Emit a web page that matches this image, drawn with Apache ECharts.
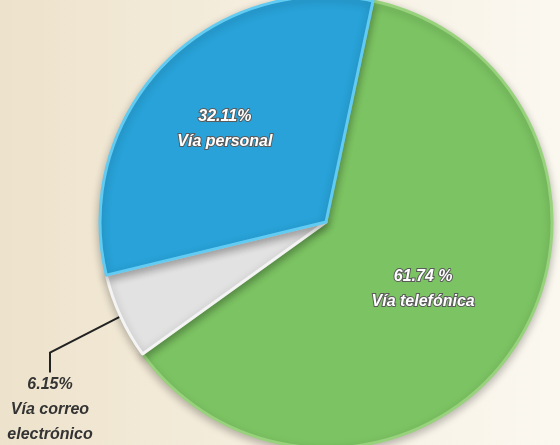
<!DOCTYPE html>
<html>
<head>
<meta charset="utf-8">
<script src="https://cdn.jsdelivr.net/npm/echarts@6/dist/echarts.min.js"></script>
<style>
  html, body { margin: 0; padding: 0; }
  #chart { width: 560px; height: 445px; }
</style>
</head>
<body>
<div id="chart"></div>
<script>
// datos del gráfico
var categorias = ['Vía telefónica', 'Vía correo\nelectrónico', 'Vía personal'];
var valores = [61.74, 6.15, 32.11];
var etiquetas = ['61.74 %', '6.15%', '32.11%'];
var colores = ['#7cc463', '#e2e2e2', '#28a2d8'];
var bordes = ['#98d27c', '#f4f4f4', '#62cbf2'];

var chart = echarts.init(document.getElementById('chart'));

var datos = valores.map(function (v, i) {
  var item = {
    name: categorias[i],
    value: v,
    itemStyle: { color: colores[i], borderColor: bordes[i], borderWidth: 3 }
  };
  if (i === 1) {
    // etiqueta exterior con línea guía
    item.label = {
      position: 'outside',
      color: '#333',
      fontSize: 16,
      textBorderWidth: 0,
      lineHeight: 25,
      align: 'center',
      overflow: 'none'
    };
    item.labelLine = {
      show: true,
      length: 20,
      length2: 20,
      lineStyle: { color: '#222', width: 2 }
    };
  }
  return item;
});

var option = {
  backgroundColor: {
    type: 'linear', x: 0, y: 0, x2: 1, y2: 0,
    colorStops: [
      { offset: 0, color: '#ede2cb' },
      { offset: 0.5, color: '#f6efe0' },
      { offset: 1, color: '#fbf8f0' }
    ]
  },
  animation: false,
  series: [{
    type: 'pie',
    center: [326, 222],
    radius: 226,
    startAngle: 78,
    clockwise: true,
    data: datos,
    itemStyle: {
      shadowBlur: 8,
      shadowColor: 'rgba(0,0,0,0.25)',
      shadowOffsetY: 3
    },
    label: {
      show: true,
      position: 'inside',
      fontFamily: 'Liberation Sans',
      fontStyle: 'italic',
      fontWeight: 'bold',
      fontSize: 16,
      lineHeight: 25,
      color: '#ffffff',
      textBorderColor: '#5a5a5a',
      textBorderWidth: 2,
      overflow: 'none',
      formatter: function (p) {
        return etiquetas[p.dataIndex] + '\n' + p.name;
      }
    },
    labelLine: { show: false },
    labelLayout: function (p) {
      if (p.dataIndex === 1) {
        return { x: 50, y: 410, align: 'center', verticalAlign: 'middle' };
      }
      if (p.dataIndex === 2) {
        return { dx: -18, dy: -12 };
      }
      if (p.dataIndex === 0) {
        return { dy: 4 };
      }
      return {};
    }
  }]
};

chart.setOption(option);
</script>
</body>
</html>
